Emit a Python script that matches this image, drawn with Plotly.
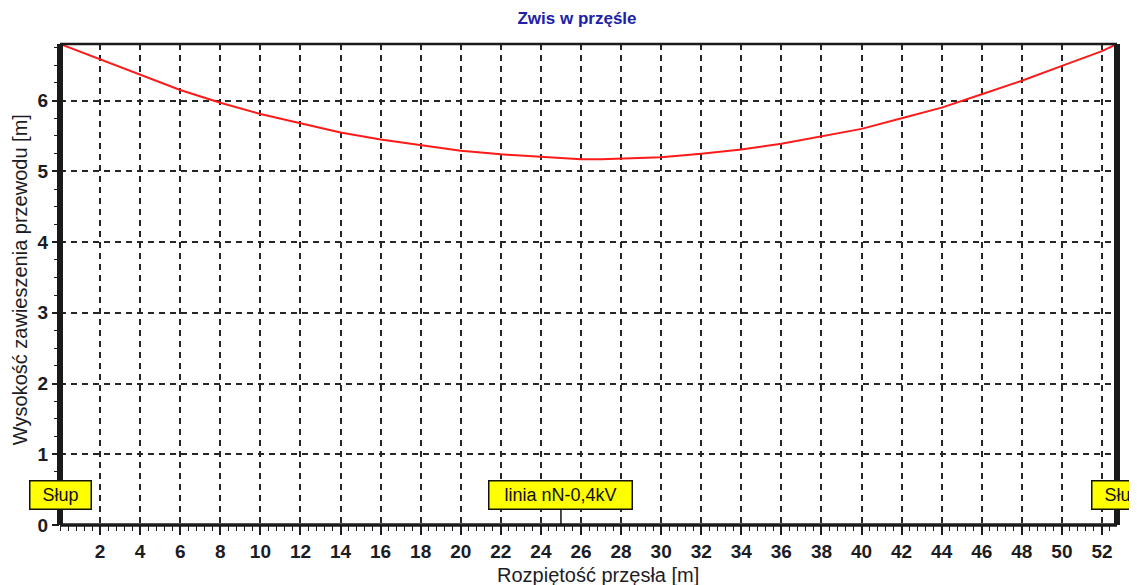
import plotly.graph_objects as go

# Data
span_x = [0, 2, 4, 6, 8, 10, 12, 14, 16, 18, 20, 22, 24, 26, 27, 28, 30, 32, 34,
          36, 38, 40, 42, 44, 46, 48, 50, 52, 52.75]
height_y = [6.80, 6.58, 6.36, 6.15, 5.97, 5.81, 5.68, 5.55, 5.45, 5.37, 5.29, 5.24, 5.20,
            5.17, 5.17, 5.18, 5.20, 5.25, 5.31, 5.39, 5.49, 5.60, 5.75, 5.90, 6.09, 6.28,
            6.49, 6.70, 6.80]
x_ticks = [2, 4, 6, 8, 10, 12, 14, 16, 18, 20, 22, 24, 26, 28, 30, 32, 34, 36, 38, 40,
           42, 44, 46, 48, 50, 52]
y_ticks = [0, 1, 2, 3, 4, 5, 6]
span_len = 52.75
y_max = 6.8
pole_label = "Słup"
line_label = "linia nN-0,4kV"
line_label_x = 25

FONT = "Liberation Sans, Arial, sans-serif"
INK = "#1c1c24"

# The page body has an 8px default margin, so the figure is made 8px smaller
W, H = 1129, 577
L, R, T, B = 52, 20, 36, 60

fig = go.Figure()
fig.add_trace(go.Scatter(x=span_x, y=height_y, mode="lines",
                         line=dict(color="#ff1a1a", width=2), showlegend=False,
                         hoverinfo="skip"))

axis_common = dict(
    showgrid=True, gridcolor="#262626", gridwidth=1.5, griddash="6px,5px",
    zeroline=False, showline=False, ticks="outside", tickcolor=INK, tickwidth=1.5,
    tickfont=dict(family=FONT, size=19, color=INK, weight="bold"),
    automargin=False,
)

fig.update_xaxes(
    range=[0, span_len], tickmode="array", tickvals=x_ticks,
    ticktext=[str(v) for v in x_ticks], ticklen=9,
    minor=dict(dtick=0.4, tick0=0, ticks="outside", ticklen=5, tickcolor=INK,
               tickwidth=1.3, showgrid=False),
    **axis_common,
)
fig.update_yaxes(
    range=[0, y_max], tickmode="array", tickvals=y_ticks,
    ticktext=[str(v) for v in y_ticks], ticklen=7,
    minor=dict(dtick=0.25, tick0=0, ticks="outside", ticklen=5, tickcolor=INK,
               tickwidth=1.3, showgrid=False),
    **axis_common,
)

# Frame: thick pole lines on sides, thinner top and bottom lines
fig.add_shape(type="line", xref="paper", yref="paper", x0=0, x1=0, y0=0, y1=1,
              line=dict(color="#1a1a1a", width=6))
fig.add_shape(type="line", xref="paper", yref="paper", x0=1, x1=1, y0=0, y1=1,
              line=dict(color="#1a1a1a", width=6))
fig.add_shape(type="line", xref="paper", yref="paper", x0=0, x1=1, y0=1, y1=1,
              line=dict(color="#1a1a1a", width=2.5))
fig.add_shape(type="line", xref="paper", yref="paper", x0=0, x1=1, y0=0, y1=0,
              line=dict(color="#1a1a1a", width=3.5))

# Axis titles
fig.add_annotation(text="Rozpiętość przęsła [m]", xref="paper", yref="paper",
                   x=0.5, y=0, xanchor="center", yanchor="middle", yshift=-50,
                   xshift=9, showarrow=False,
                   font=dict(family=FONT, size=20, color=INK))
fig.add_annotation(text="Wysokość zawieszenia przewodu [m]", xref="paper", yref="paper",
                   x=0, y=0.509, xanchor="center", yanchor="middle", xshift=-40,
                   textangle=-90, showarrow=False,
                   font=dict(family=FONT, size=20, color=INK))

box = dict(bgcolor="#ffff00", bordercolor="#111111", borderwidth=1.5, borderpad=2,
           font=dict(family=FONT, size=18, color="#111111"), height=23)
fig.add_annotation(x=0, y=0.42, xref="x", yref="y", text=pole_label, showarrow=False,
                   xanchor="center", yanchor="middle", width=56, **box)
fig.add_annotation(x=span_len, y=0.42, xref="x", yref="y", text=pole_label,
                   showarrow=False, xanchor="center", yanchor="middle", width=56,
                   xshift=5, **box)
fig.add_annotation(x=line_label_x, y=0, xref="x", yref="y", text=line_label,
                   showarrow=True, arrowhead=0, arrowwidth=1.5, arrowcolor="#111111",
                   ax=0, ay=-30, width=138, **box)

fig.update_layout(
    width=W, height=H,
    margin=dict(l=L, r=R, t=T, b=B, autoexpand=False),
    paper_bgcolor="white", plot_bgcolor="white",
    title=dict(text="Zwis w przęśle", x=569 / W, xanchor="center",
               y=1 - 10 / H, yanchor="middle", automargin=False,
               font=dict(family=FONT, size=17, color="#2020a8", weight="bold")),
)

fig.write_html("out.html")
